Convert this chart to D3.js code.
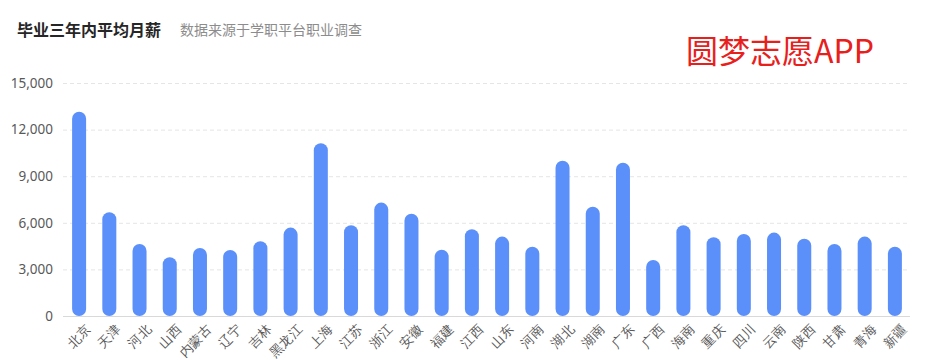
<!DOCTYPE html>
<html>
<head>
<meta charset="utf-8">
<script src="https://cdn.jsdelivr.net/npm/d3@7"></script>
<style>
  body { margin: 0; background: #fff; }
  svg { font-family: "Noto Sans CJK SC", "Noto Sans", sans-serif; }
</style>
</head>
<body>
<div id="chart"></div>
<script>
// provinces and average monthly salary within three years of graduation
const provinces = ["北京", "天津", "河北", "山西", "内蒙古", "辽宁", "吉林", "黑龙江", "上海", "江苏",
  "浙江", "安徽", "福建", "江西", "山东", "河南", "湖北", "湖南", "广东", "广西",
  "海南", "重庆", "四川", "云南", "陕西", "甘肃", "青海", "新疆"];
const salary = [13150, 6680, 4640, 3780, 4380, 4250, 4810, 5690, 11120, 5840,
  7300, 6590, 4270, 5580, 5110, 4460, 10000, 7040, 9870, 3610,
  5840, 5070, 5280, 5370, 4980, 4640, 5110, 4460];
const yTicks = [0, 3000, 6000, 9000, 12000, 15000];

const width = 935, height = 360;
const margin = { top: 83, right: 25, bottom: 44, left: 64 };

const svg = d3.select("#chart").append("svg")
  .attr("width", width)
  .attr("height", height);

// title + subtitle
svg.append("text")
  .attr("x", 17).attr("y", 36)
  .attr("font-size", 16).attr("font-weight", "bold")
  .attr("fill", "#262626")
  .text("毕业三年内平均月薪");
svg.append("text")
  .attr("x", 180).attr("y", 35)
  .attr("font-size", 14)
  .attr("fill", "#8c8c8c")
  .text("数据来源于学职平台职业调查");

// watermark
svg.append("text")
  .attr("x", 686).attr("y", 63)
  .attr("font-size", 32)
  .attr("fill", "#e8201c")
  .text("圆梦志愿APP");

const x = d3.scaleBand()
  .domain(provinces)
  .range([margin.left, width - margin.right]);

const y = d3.scaleLinear()
  .domain([0, 15000])
  .range([height - margin.bottom, margin.top]);

// grid lines
svg.append("g")
  .selectAll("line")
  .data(yTicks.slice(1))
  .enter()
  .append("line")
  .attr("x1", margin.left - 1)
  .attr("x2", width - margin.right)
  .attr("y1", d => y(d) + 0.5)
  .attr("y2", d => y(d) + 0.5)
  .attr("stroke", "#e5e5e5")
  .attr("stroke-dasharray", "4,3");

// y axis labels only
const yAxis = svg.append("g")
  .attr("transform", "translate(" + (margin.left - 8) + ",0)")
  .call(d3.axisLeft(y).tickValues(yTicks).tickFormat(d3.format(",")).tickSize(0));
yAxis.select(".domain").remove();
yAxis.selectAll("text")
  .attr("font-size", 13.5)
  .attr("fill", "#595959")
  .attr("font-family", "Noto Sans, sans-serif");

// bars
const barW = 14;
svg.append("g")
  .selectAll("rect")
  .data(provinces)
  .enter()
  .append("rect")
  .attr("x", d => x(d) + x.bandwidth() / 2 - barW / 2)
  .attr("y", (d, i) => y(salary[i]))
  .attr("width", barW)
  .attr("height", (d, i) => y(0) - y(salary[i]))
  .attr("rx", barW / 2)
  .attr("fill", "#5b8ff9");

// x axis
const xAxis = svg.append("g")
  .attr("transform", "translate(0," + y(0) + ")")
  .call(d3.axisBottom(x).tickSize(0).tickPadding(0));
xAxis.select(".domain")
  .attr("stroke", "#d9d9d9")
  .attr("d", "M" + (margin.left - 1) + ",0.5H" + (width - margin.right));
xAxis.selectAll("text")
  .attr("font-size", 13)
  .attr("fill", "#595959")
  .attr("text-anchor", "end")
  .attr("dy", "0.35em")
  .attr("transform", "translate(9,11) rotate(-45)");
</script>
</body>
</html>
